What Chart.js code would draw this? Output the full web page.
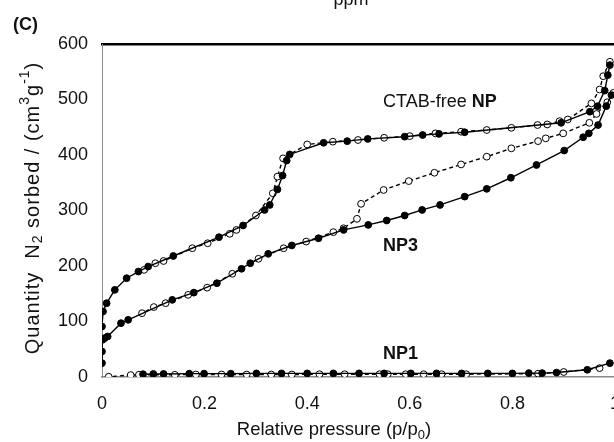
<!DOCTYPE html>
<html>
<head>
<meta charset="utf-8">
<script src="https://cdn.jsdelivr.net/npm/chart.js@4.4.1/dist/chart.umd.min.js"></script>
<style>
  html, body { margin: 0; padding: 0; background: #fff; overflow: hidden; }
  #wrap { position: relative; width: 640px; height: 442px; }
</style>
</head>
<body>
<div id="wrap"><canvas id="chart" width="640" height="442"></canvas></div>
<script>
  // isotherm readings, relative pressure (p/p0) vs quantity sorbed (cm3/g)
  const ctabAdsX = [0, 0.002, 0.009, 0.025, 0.048, 0.071, 0.09, 0.139, 0.228, 0.275, 0.317, 0.327, 0.342, 0.352, 0.36, 0.366, 0.432, 0.478, 0.518, 0.59, 0.625, 0.657, 0.707, 0.895, 0.951, 0.966, 0.98, 0.986, 0.99];
  const ctabAdsY = [91, 118, 133, 157, 178, 190, 199, 218, 252, 273, 301, 310, 338, 363, 390, 401, 422, 425, 429, 433, 436, 438, 441, 458, 478, 488, 516, 544, 562];
  const ctabDesX = [0.99, 0.977, 0.97, 0.954, 0.908, 0.892, 0.868, 0.849, 0.798, 0.75, 0.70, 0.65, 0.60, 0.55, 0.499, 0.45, 0.40, 0.353, 0.342, 0.333, 0.30, 0.262, 0.249, 0.206, 0.176, 0.12, 0.104, 0.082];
  const ctabDesY = [568, 542, 518, 493, 464, 461, 455, 454, 449, 445, 442, 439, 434, 431, 427, 424, 419, 394, 361, 331, 291, 265, 258, 241, 232, 209, 205, 193];

  const np3AdsX = [0, 0, 0.001, 0.005, 0.011, 0.037, 0.051, 0.137, 0.179, 0.224, 0.272, 0.289, 0.324, 0.37, 0.422, 0.471, 0.519, 0.555, 0.59, 0.624, 0.659, 0.707, 0.75, 0.797, 0.847, 0.901, 0.938, 0.949, 0.967, 0.983, 0.993];
  const np3AdsY = [25, 46, 67, 70, 73, 97, 103, 139, 152, 169, 195, 205, 222, 237, 250, 265, 274, 282, 291, 301, 310, 325, 339, 359, 382, 408, 432, 439, 454, 488, 508];
  const np3DesX = [0.997, 0.985, 0.964, 0.95, 0.899, 0.865, 0.85, 0.798, 0.75, 0.70, 0.648, 0.598, 0.549, 0.505, 0.497, 0.471, 0.451, 0.398, 0.354, 0.305, 0.254, 0.205, 0.168, 0.124, 0.101, 0.078];
  const np3DesY = [512, 495, 474, 458, 439, 430, 425, 412, 397, 383, 368, 353, 337, 312, 285, 268, 261, 244, 232, 213, 186, 161, 148, 133, 126, 115];

  const np1AdsX = [0.08, 0.10, 0.12, 0.17, 0.199, 0.251, 0.301, 0.35, 0.40, 0.451, 0.501, 0.55, 0.602, 0.652, 0.701, 0.752, 0.80, 0.832, 0.858, 0.886, 0.946, 0.99];
  const np1AdsY = [5, 5.5, 5.5, 6, 6, 6, 6.5, 6.5, 6.5, 6.5, 6.5, 6.5, 6.5, 6.5, 6.5, 6.5, 6.5, 7, 7, 8, 13, 25];
  const np1DesX = [0.97, 0.90, 0.85, 0.71, 0.662, 0.627, 0.592, 0.557, 0.541, 0.473, 0.424, 0.37, 0.33, 0.282, 0.233, 0.183, 0.142, 0.072, 0.056, 0.013];
  const np1DesY = [16, 9, 6, 5, 5, 5, 5, 5, 5, 5, 5, 4.5, 4.5, 4.5, 4.5, 4.5, 4, 4, 3.5, 0.5];

  const xTicks = [0, 0.2, 0.4, 0.6, 0.8, 1];
  const yTicks = [0, 100, 200, 300, 400, 500, 600];

  // axis titles as runs: [text, 'sub' | 'sup' | undefined]
  const xTitle = [['Relative pressure (p/p'], ['0', 'sub'], [')']];
  const yTitle = [['Quantity  N'], ['2', 'sub'], [' sorbed / (cm'], ['3', 'sup'], ['g'], ['-1', 'sup'], [')']];

  const FONT = '"Liberation Sans", Arial, sans-serif';

  function pairs(xs, ys) {
    return xs.map((x, i) => ({ x, y: ys[i] }));
  }

  function series(label, xs, ys, open) {
    return {
      label,
      data: pairs(xs, ys),
      showLine: true,
      borderColor: '#000',
      borderWidth: 1.4,
      borderDash: open ? [4, 3] : [],
      backgroundColor: open ? '#fff' : '#000',
      pointBackgroundColor: open ? '#fff' : '#000',
      pointBorderColor: '#000',
      pointBorderWidth: 1,
      pointRadius: 3.4,
      tension: 0
    };
  }

  // draws a run of text centred on (0,0) of the current transform
  function drawRuns(ctx, runs, size, spacing) {
    const small = Math.round(size * 0.68);
    ctx.letterSpacing = spacing + 'px';
    const widths = runs.map(([t, kind]) => {
      ctx.font = (kind ? small : size) + 'px ' + FONT;
      return ctx.measureText(t).width;
    });
    let x = -widths.reduce((a, b) => a + b, 0) / 2;
    runs.forEach(([t, kind], i) => {
      ctx.font = (kind ? small : size) + 'px ' + FONT;
      const dy = kind === 'sub' ? size * 0.28 : kind === 'sup' ? -size * 0.38 : 0;
      ctx.fillText(t, x, dy);
      x += widths[i];
    });
    ctx.letterSpacing = '0px';
  }

  const labelsPlugin = {
    id: 'labels',
    afterDraw(chart) {
      const ctx = chart.ctx;
      ctx.save();
      ctx.fillStyle = '#111';
      ctx.textBaseline = 'middle';
      ctx.textAlign = 'left';
      ctx.font = '18px ' + FONT;
      const lead = 'CTAB-free ';
      ctx.fillText(lead, 383, 102);
      const w = ctx.measureText(lead).width;
      ctx.font = 'bold 18px ' + FONT;
      ctx.fillText('NP', 383 + w, 102);
      ctx.fillText('NP3', 383, 246);
      ctx.fillText('NP1', 383, 354);
      ctx.fillText('(C)', 13, 25);
      ctx.font = '18px ' + FONT;
      ctx.textBaseline = 'alphabetic';
      ctx.textAlign = 'center';
      ctx.fillText('ppm', 351, 5);

      ctx.textAlign = 'left';
      ctx.textBaseline = 'middle';
      ctx.save();
      ctx.translate(334, 430);
      drawRuns(ctx, xTitle, 18.5, 0);
      ctx.restore();

      ctx.save();
      ctx.translate(33, 208);
      ctx.rotate(-Math.PI / 2);
      drawRuns(ctx, yTitle, 20, 1);
      ctx.restore();
      ctx.restore();
    }
  };

  new Chart(document.getElementById('chart'), {
    type: 'scatter',
    data: {
      datasets: [
        series('CTAB-free NP adsorption', ctabAdsX, ctabAdsY, false),
        series('CTAB-free NP desorption', ctabDesX, ctabDesY, true),
        series('NP3 adsorption', np3AdsX, np3AdsY, false),
        series('NP3 desorption', np3DesX, np3DesY, true),
        series('NP1 adsorption', np1AdsX, np1AdsY, false),
        series('NP1 desorption', np1DesX, np1DesY, true)
      ]
    },
    options: {
      responsive: false,
      animation: false,
      layout: { padding: { left: 0, right: 25, top: 0, bottom: 0 } },
      plugins: { legend: { display: false }, tooltip: { enabled: false } },
      scales: {
        x: {
          type: 'linear',
          position: 'bottom',
          min: 0,
          max: 1,
          afterFit: (scale) => { scale.height = 65; },
          afterBuildTicks: (scale) => { scale.ticks = xTicks.map((v) => ({ value: v })); },
          ticks: {
            color: '#111',
            font: { family: FONT, size: 18 },
            padding: 16,
            maxRotation: 0,
            callback: (v) => String(v)
          },
          grid: { display: false, drawTicks: false },
          border: { color: '#8a8a8a', width: 1.5 }
        },
        xTop: {
          type: 'linear',
          position: 'top',
          min: 0,
          max: 1,
          afterFit: (scale) => { scale.height = 44; },
          ticks: { display: false },
          grid: { display: false, drawTicks: false },
          border: { color: '#000', width: 2.5 }
        },
        y: {
          type: 'linear',
          min: 0,
          max: 600,
          afterFit: (scale) => { scale.width = 102; },
          afterBuildTicks: (scale) => { scale.ticks = yTicks.map((v) => ({ value: v })); },
          ticks: {
            color: '#111',
            font: { family: FONT, size: 18 },
            padding: 14
          },
          grid: { display: false, drawTicks: false },
          border: { color: '#8a8a8a', width: 1 }
        }
      }
    },
    plugins: [labelsPlugin]
  });
</script>
</body>
</html>
